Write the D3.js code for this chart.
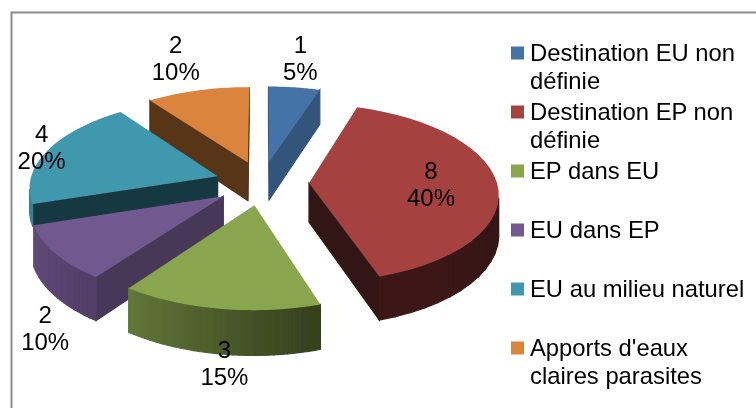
<!DOCTYPE html>
<html>
<head>
<meta charset="utf-8">
<script src="https://cdn.jsdelivr.net/npm/d3@7"></script>
<style>
html, body { margin: 0; padding: 0; background: #fff; }
svg { display: block; font-family: "Liberation Sans", Arial, sans-serif; }
</style>
</head>
<body>
<svg id="chart" width="756" height="408"></svg>
<script>
var categories = [
  ["Destination EU non", "définie"],
  ["Destination EP non", "définie"],
  ["EP dans EU"],
  ["EU dans EP"],
  ["EU au milieu naturel"],
  ["Apports d'eaux", "claires parasites"]
];
var counts = [1, 8, 3, 2, 4, 2];
var percents = ["5%", "40%", "15%", "10%", "20%", "10%"];
var colors = ["#4572a7", "#a5423f", "#89a54e", "#71588f", "#4198af", "#db843d"];

// shade of the straight cut wall of each slice
var cutShade = [0.74, 0.3, 0.45, 0.62, 0.36, 0.4];
// wall height of each slice, the teal one only shows a thin band
var wallHeight = [1, 1, 1, 1, 0.55, 1];
// label centre, relative to the outer rim of the slice
var labelOffset = [[6, -29], [-66, 1], [5, 54], [-10, 75], [-6, -3], [-22, -32]];
// back to front
var paintOrder = [0, 5, 4, 3, 1, 2];

var svg = d3.select("#chart");
var cx = 262, cy = 183;
var rx = 188, ry = 88;
var persp = 0.11;
var explode = 0.25;
var depth = 39;

// pie plane -> screen, v points away from the viewer
function project(u, v, z) {
  var w = 1 / (1 + persp * v);
  return [cx + rx * u * w, cy - ry * v * w + (z || 0) * depth * w];
}

// rim shade goes from dark on the right to lighter on the left
var rimShade = d3.scaleLinear().domain([90, 162, 216, 252]).range([0.3, 0.38, 0.72, 0.85]).clamp(true);

function shade(color, k) {
  return d3.interpolateRgb("#000", color)(k);
}

var slices = d3.pie().sort(null)(counts);

function slicePoint(s, a, r, z) {
  var mid = (s.startAngle + s.endAngle) / 2;
  var u = explode * Math.sin(mid) + r * Math.sin(a);
  var v = explode * Math.cos(mid) + r * Math.cos(a);
  return project(u, v, z);
}

function drawQuad(g, pts, fill) {
  // keep only the faces turned to the viewer
  if (d3.polygonArea(pts) <= 0) return;
  g.append("path")
    .attr("d", d3.line()(pts) + "Z")
    .attr("fill", fill)
    .attr("stroke", fill)
    .attr("stroke-width", 1.2);
}

var defs = svg.append("defs");
defs.append("filter").attr("id", "soft")
  .append("feGaussianBlur").attr("stdDeviation", 0.6);
defs.append("filter").attr("id", "softText")
  .append("feGaussianBlur").attr("stdDeviation", 0.35);

// frame
svg.append("path")
  .attr("d", "M11.5,408V12.5H756")
  .attr("fill", "none")
  .attr("stroke", "#8c8c8c")
  .attr("stroke-width", 2);

var pieG = svg.append("g").attr("filter", "url(#soft)");

paintOrder.forEach(function(i) {
  var s = slices[i];
  var g = pieG.append("g");
  var h = wallHeight[i];
  var steps = 30;
  var arcAngles = d3.range(steps + 1).map(function(k) {
    return s.startAngle + (s.endAngle - s.startAngle) * k / steps;
  });
  var rim = arcAngles.map(function(a) { return slicePoint(s, a, 1, 0); });
  var apex = slicePoint(s, 0, 0, 0);
  var apexLow = slicePoint(s, 0, 0, h);

  // cut walls
  var first = slicePoint(s, s.startAngle, 1, 0), firstLow = slicePoint(s, s.startAngle, 1, h);
  var last = slicePoint(s, s.endAngle, 1, 0), lastLow = slicePoint(s, s.endAngle, 1, h);
  drawQuad(g, [apex, first, firstLow, apexLow], shade(colors[i], cutShade[i]));
  drawQuad(g, [last, apex, apexLow, lastLow], shade(colors[i], cutShade[i]));

  // rim wall
  for (var k = 0; k < steps; k++) {
    var deg = (arcAngles[k] + arcAngles[k + 1]) / 2 * 180 / Math.PI;
    drawQuad(g, [
      rim[k], rim[k + 1],
      slicePoint(s, arcAngles[k + 1], 1, h), slicePoint(s, arcAngles[k], 1, h)
    ], shade(colors[i], rimShade(deg)));
  }

  // top face
  g.append("path")
    .attr("d", d3.line()([apex].concat(rim)) + "Z")
    .attr("fill", colors[i]);
});

var textG = svg.append("g").attr("filter", "url(#softText)");

// data labels
slices.forEach(function(s, i) {
  var mid = (s.startAngle + s.endAngle) / 2;
  var p = slicePoint(s, mid, 1, 0);
  var t = textG.append("text")
    .attr("text-anchor", "middle")
    .attr("font-size", 24)
    .attr("fill", "#000");
  t.append("tspan").attr("x", p[0] + labelOffset[i][0]).attr("y", p[1] + labelOffset[i][1] - 5).text(counts[i]);
  t.append("tspan").attr("x", p[0] + labelOffset[i][0]).attr("y", p[1] + labelOffset[i][1] + 22).text(percents[i]);
});

// legend
var legendY = d3.scalePoint().domain(d3.range(categories.length)).range([53, 348]);
var swatches = svg.append("g").attr("filter", "url(#softText)").selectAll("rect").data(categories).join("rect")
  .attr("x", 511).attr("y", function(d, i) { return legendY(i) - 6.5; })
  .attr("width", 13).attr("height", 13)
  .attr("fill", function(d, i) { return colors[i]; });
var legend = textG.selectAll("g.legend").data(categories).join("g")
  .attr("class", "legend")
  .attr("transform", function(d, i) { return "translate(511," + legendY(i) + ")"; });
legend.each(function(d) {
  var text = d3.select(this).append("text").attr("font-size", 23.8).attr("fill", "#000");
  d.forEach(function(line, j) {
    text.append("tspan").attr("x", 19).attr("y", 8 + j * 28).text(line);
  });
});
</script>
</body>
</html>
